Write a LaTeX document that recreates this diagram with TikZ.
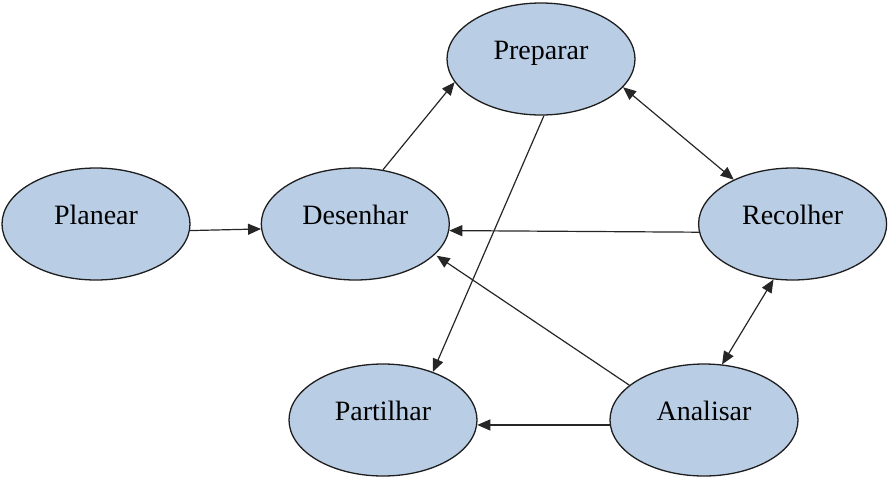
\documentclass[tikz,border=0pt]{standalone}
\usepackage{fontspec}
\setmainfont{Liberation Serif}
\usepackage{tikz}
\usetikzlibrary{arrows.meta,positioning,shapes.geometric}
\usepackage{xcolor}
\definecolor{stagefill}{RGB}{185,205,229}
\definecolor{edge}{RGB}{30,30,30}

\begin{document}
\begin{tikzpicture}[x=1pt, y=-1pt, font=\fontsize{28}{32}\selectfont,
 stage/.style={ellipse, draw=edge, line width=1.3pt, fill=stagefill, minimum width=188pt, minimum height=112pt, inner sep=0pt, text height=20pt, text depth=20pt},
 arr/.style={-{Triangle[length=13pt, width=11pt]}, line width=1.2pt, color=black!85},
 both/.style={{Triangle[length=13pt, width=11pt]}-{Triangle[length=13pt, width=11pt]}, line width=1.2pt, color=black!85}]
\useasboundingbox (0,0) rectangle (893,496);
\node[stage] (planear) at (96,224) {Planear};
\node[stage, right=70pt of planear] (desenhar) {Desenhar};
\node[stage, right=248pt of desenhar] (recolher) {Recolher};
\node[stage] (preparar) at (541,59) {Preparar};
\node[stage] (partilhar) at (383,420) {Partilhar};
\node[stage] (analisar) at (704,420) {Analisar};
\draw[arr] (planear.-4) -- (desenhar.183);
\draw[arr] (desenhar.63) -- (preparar.195);
\draw[both] (preparar.-19) -- (recolher.143);
\draw[arr] (recolher.185) -- (desenhar.-4);
\draw[arr] (preparar.-87) -- (partilhar.44);
\draw[arr, shorten >=2pt] (analisar.155) -- (desenhar.-21);
\draw[both] (recolher.-109) -- (analisar.72);
\draw[arr] (analisar.183) -- (partilhar.-3);
\end{tikzpicture}
\end{document}
